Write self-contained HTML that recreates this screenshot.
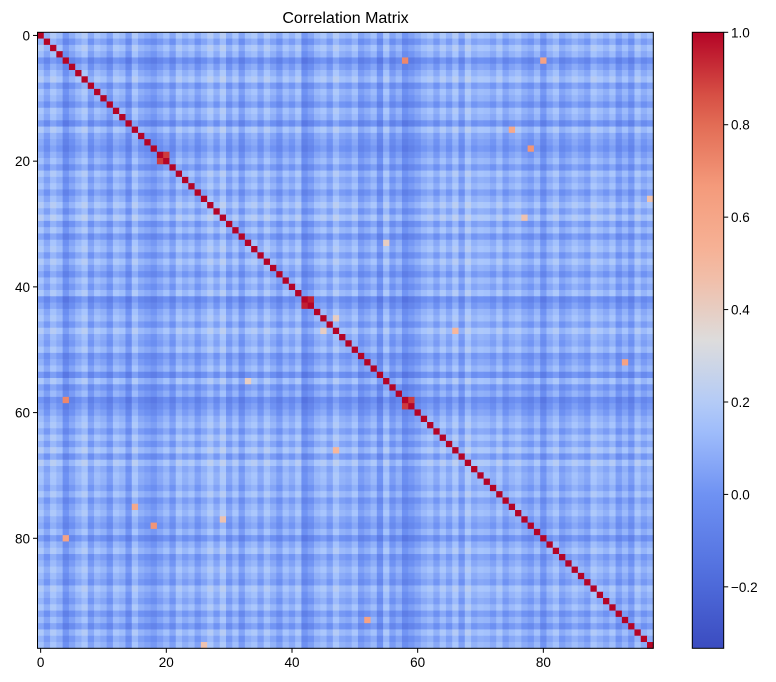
<!DOCTYPE html>
<html><head><meta charset="utf-8"><style>
html,body{margin:0;padding:0;background:#fff;}
svg{display:block;font-family:"Liberation Sans","DejaVu Sans",sans-serif;}
</style></head><body>
<svg id="chart" width="776" height="682" viewBox="0 0 776 682">
<text x="345.5" y="23" text-anchor="middle" font-size="16" fill="#000">Correlation Matrix</text>
<g id="cells"></g>
<rect x="37.5" y="32.3" width="615.8" height="616" fill="none" stroke="#000" stroke-width="1"/>
<g id="axes"></g>
<defs><linearGradient id="cbg" x1="0" y1="1" x2="0" y2="0"></linearGradient></defs>
<rect id="cbar" x="692.3" y="32.3" width="31.4" height="616" fill="url(#cbg)" stroke="#000" stroke-width="1"/>
<g id="cbticks"></g>
</svg>
<script>
const N = 98;
const vmin = -0.333, vmax = 1.0;
const axisTicks = [0, 20, 40, 60, 80];
const colorbarTicks = [-0.2, 0.0, 0.2, 0.4, 0.6, 0.8, 1.0];
// per-variable typical correlation level (estimated)
const levels = [0.18,0.02,0.20,0.10,-0.14,0.00,0.12,0.22,-0.02,0.14,0.08,-0.06,0.16,0.10,-0.10,0.20,0.04,-0.02,-0.08,0.02,
0.12,-0.04,0.18,0.06,0.14,-0.02,0.10,0.22,0.06,0.24,0.00,0.16,-0.06,0.12,0.18,0.02,0.20,0.08,-0.04,0.14,
0.04,0.18,-0.14,-0.04,0.10,0.16,0.02,0.22,0.08,0.04,0.16,-0.06,0.02,0.12,-0.12,0.18,-0.06,0.06,-0.16,-0.08,
0.00,0.10,0.16,0.02,0.18,0.04,0.22,-0.02,0.24,0.08,0.14,0.12,0.04,0.18,0.00,0.10,0.16,0.04,-0.02,0.12,
-0.10,0.08,0.18,-0.02,0.06,0.16,0.08,0.00,0.20,0.12,0.04,0.16,-0.04,0.10,-0.06,0.18,0.04,0.12];
// notable off-diagonal pairs [row, col, value]
const highlights = [[4,58,0.72],[4,80,0.62],[15,75,0.58],[18,78,0.68],[47,66,0.5],[52,93,0.62],
[19,20,0.9],[42,43,0.95],[58,59,0.9],[45,47,0.4],[33,55,0.4],[29,77,0.45],[26,97,0.45]];

const x0 = 37.5, y0 = 32.3, cw = 615.8 / N, ch = 616 / N;
const xs = i => x0 + i * cw;
const ys = i => y0 + i * ch;
const anchors = [[0,[59,76,192]],[0.125,[82,112,223]],[0.25,[111,146,243]],[0.375,[170,199,253]],
[0.5,[221,220,220]],[0.625,[246,183,156]],[0.75,[244,154,123]],[0.875,[222,96,76]],[1,[180,4,38]]];
function cmap(t){t=Math.max(0,Math.min(1,t));for(let k=1;k<anchors.length;k++){if(t<=anchors[k][0]){const a=anchors[k-1],b=anchors[k];const f=(t-a[0])/(b[0]-a[0]);const c=a[1].map((v,j)=>Math.round(v+(b[1][j]-v)*f));return `rgb(${c[0]},${c[1]},${c[2]})`;}}return 'rgb(180,4,38)';}
const norm = v => (v - vmin) / (vmax - vmin);
const M = [];
for(let i=0;i<N;i++){M.push([]);for(let j=0;j<N;j++){M[i].push(i===j?1:(levels[i]+levels[j])/2);}}
highlights.forEach(h=>{M[h[0]][h[1]]=h[2];M[h[1]][h[0]]=h[2];});
const NS='http://www.w3.org/2000/svg';
const g=document.getElementById('cells');
for(let i=0;i<N;i++)for(let j=0;j<N;j++){
  const r=document.createElementNS(NS,'rect');
  r.setAttribute('x',xs(j));r.setAttribute('y',ys(i));
  r.setAttribute('width',cw+0.4);r.setAttribute('height',ch+0.4);
  r.setAttribute('fill',cmap(norm(M[i][j])));
  
  
  g.appendChild(r);
}
const ax=document.getElementById('axes');
axisTicks.forEach(t=>{
  const cx=xs(t)+cw/2, cy=ys(t)+ch/2;
  const lx=document.createElementNS(NS,'line');
  lx.setAttribute('x1',cx);lx.setAttribute('x2',cx);lx.setAttribute('y1',648.3);lx.setAttribute('y2',652.8);lx.setAttribute('stroke','#000');
  
  
  ax.appendChild(lx);
  const tx=document.createElementNS(NS,'text');
  tx.setAttribute('x',cx);tx.setAttribute('y',667);tx.setAttribute('text-anchor','middle');tx.setAttribute('font-size','13.5');
  tx.textContent=t;
  
  
  ax.appendChild(tx);
  const ly=document.createElementNS(NS,'line');
  ly.setAttribute('x1',33);ly.setAttribute('x2',37.5);ly.setAttribute('y1',cy);ly.setAttribute('y2',cy);ly.setAttribute('stroke','#000');
  
  
  ax.appendChild(ly);
  const ty=document.createElementNS(NS,'text');
  ty.setAttribute('x',30);ty.setAttribute('y',cy+5);ty.setAttribute('text-anchor','end');ty.setAttribute('font-size','13.5');
  ty.textContent=t;
  
  
  ax.appendChild(ty);
});
const grad=document.getElementById('cbg');
for(let k=0;k<=20;k++){const s=document.createElementNS(NS,'stop');s.setAttribute('offset',k/20);s.setAttribute('stop-color',cmap(k/20));grad.appendChild(s);}
const cb=document.getElementById('cbticks');
const cby=v=>648.3-norm(v)*616;
colorbarTicks.forEach(v=>{
  const y=cby(v);
  const l=document.createElementNS(NS,'line');
  l.setAttribute('x1',723.7);l.setAttribute('x2',728.2);l.setAttribute('y1',y);l.setAttribute('y2',y);l.setAttribute('stroke','#000');
  
  
  cb.appendChild(l);
  const t=document.createElementNS(NS,'text');
  t.setAttribute('x',731);t.setAttribute('y',y+5);t.setAttribute('font-size','13.5');
  t.textContent=(v<0?'\u2212':'')+Math.abs(v).toFixed(1);
  
  
  cb.appendChild(t);
});
</script>
</body></html>
